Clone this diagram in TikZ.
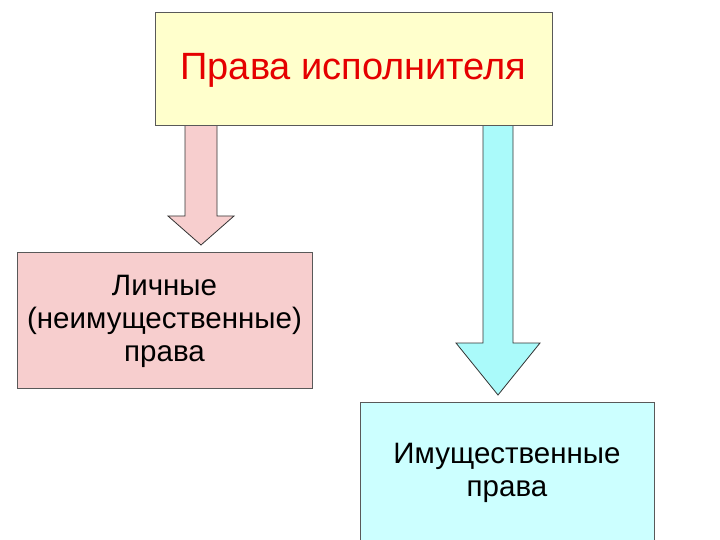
\documentclass[tikz,border=0pt]{standalone}
\usepackage{fontspec}
\setmainfont{Liberation Sans}
\begin{document}
\begin{tikzpicture}[x=1pt,y=-1pt,
  boxst/.style={draw=gray!70!black,line width=0.8pt},
  arrowst/.style={draw=black!80,line width=0.8pt},
  txt/.style={align=center,font=\fontsize{29.5}{33}\selectfont}]
\useasboundingbox (0,0) rectangle (720,540);
\definecolor{yel}{RGB}{255,255,204}
\definecolor{pnk}{RGB}{247,206,206}
\definecolor{cyn}{RGB}{204,255,255}
\definecolor{cyna}{RGB}{170,250,250}
% arrows
\draw[arrowst,fill=pnk] (185,125) -- (217,125) -- (217,216) -- (234,216) -- (201,245) -- (168,216) -- (185,216) -- cycle;
\draw[arrowst,fill=cyna] (483,125) -- (513,125) -- (513,343) -- (540,343) -- (498,395) -- (456,343) -- (483,343) -- cycle;
% boxes
\draw[boxst,fill=yel] (155,12) rectangle (552,125);
\node[font=\fontsize{38}{40}\selectfont,text=red!90!black] (top) at (353.5,70) {Права исполнителя};
\draw[boxst,fill=pnk] (17,252) rectangle (312,388);
\node[txt] (left) at (164.5,321) {Личные\\(неимущественные)\\права};
\draw[boxst,fill=cyn] (360,402) rectangle (654,545);
\node[txt] (right) at (507,473) {Имущественные\\права};
\end{tikzpicture}
\end{document}
